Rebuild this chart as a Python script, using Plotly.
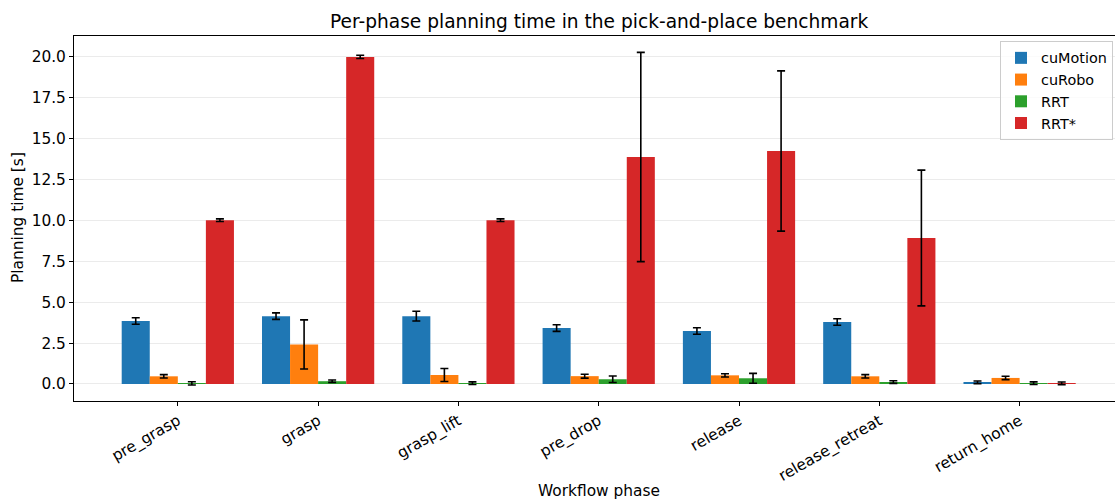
import plotly.graph_objects as go

# Workflow phases on the x axis
phases = ["pre_grasp", "grasp", "grasp_lift", "pre_drop", "release",
          "release_retreat", "return_home"]

# Mean planning time per phase [s] and standard deviation for each planner
cumotion_mean = [3.85, 4.15, 4.15, 3.42, 3.24, 3.79, 0.10]
cumotion_std = [0.20, 0.20, 0.30, 0.20, 0.20, 0.20, 0.08]

curobo_mean = [0.47, 2.42, 0.55, 0.48, 0.53, 0.47, 0.37]
curobo_std = [0.10, 1.50, 0.40, 0.12, 0.10, 0.10, 0.10]

rrt_mean = [0.04, 0.17, 0.05, 0.29, 0.35, 0.12, 0.05]
rrt_std = [0.10, 0.07, 0.08, 0.20, 0.30, 0.08, 0.08]

rrtstar_mean = [10.02, 20.00, 10.02, 13.88, 14.25, 8.93, 0.04]
rrtstar_std = [0.08, 0.10, 0.08, 6.40, 4.90, 4.15, 0.08]

series = [
    ("cuMotion", cumotion_mean, cumotion_std, "#1f77b4"),
    ("cuRobo", curobo_mean, curobo_std, "#ff7f0e"),
    ("RRT", rrt_mean, rrt_std, "#2ca02c"),
    ("RRT*", rrtstar_mean, rrtstar_std, "#d62728"),
]

FONT = "DejaVu Sans"
LABEL_SIZE = 15.4
LEGEND_SIZE = 14.4
TITLE_SIZE = 18.6
x_idx = list(range(len(phases)))

fig = go.Figure()
for name, mean, std, color in series:
    fig.add_trace(go.Bar(
        name=name,
        x=x_idx,
        y=mean,
        marker=dict(color=color, line=dict(width=0)),
        error_y=dict(type="data", array=std, visible=True,
                     color="black", thickness=1.6, width=4),
    ))

fig.update_layout(
    width=1115,
    height=499,
    margin=dict(l=74, r=0, t=36, b=98, autoexpand=False),
    paper_bgcolor="white",
    plot_bgcolor="white",
    barmode="group",
    bargap=0.2,
    bargroupgap=0.0,
    font=dict(family=FONT, size=LABEL_SIZE, color="black"),
    showlegend=True,
    legend=dict(
        x=(1000 - 74) / 1041, y=(401 - 41) / 365,
        xanchor="left", yanchor="top",
        bgcolor="rgba(255,255,255,0.8)",
        bordercolor="#cccccc", borderwidth=1,
        font=dict(family=FONT, size=LEGEND_SIZE),
        tracegroupgap=0,
    ),
    annotations=[
        dict(text="Per-phase planning time in the pick-and-place benchmark",
             xref="paper", yref="paper",
             x=(599 - 74) / 1041, y=1, yshift=15,
             xanchor="center", yanchor="middle", showarrow=False,
             font=dict(family=FONT, size=TITLE_SIZE)),
        dict(text="Workflow phase",
             xref="paper", yref="paper",
             x=(599 - 74) / 1041, y=0, yshift=-90,
             xanchor="center", yanchor="middle", showarrow=False,
             font=dict(family=FONT, size=LABEL_SIZE)),
        dict(text="Planning time [s]",
             xref="paper", yref="paper",
             x=0, xshift=-56, y=(401 - 218) / 365,
             xanchor="center", yanchor="middle", showarrow=False,
             textangle=-90,
             font=dict(family=FONT, size=LABEL_SIZE)),
    ],
)

fig.update_xaxes(
    range=[-0.74, 6.68],
    tickmode="array",
    tickvals=x_idx,
    ticktext=phases,
    tickangle=-30,
    ticks="outside", ticklen=4, tickwidth=1, tickcolor="black",
    showline=True, linecolor="black", linewidth=1, mirror=True,
    showgrid=False, zeroline=False,
    tickfont=dict(family=FONT, size=LABEL_SIZE),
)

fig.update_yaxes(
    range=[-1.04, 21.28],
    tickmode="array",
    tickvals=[0, 2.5, 5, 7.5, 10, 12.5, 15, 17.5, 20],
    tickformat=".1f",
    ticks="outside", ticklen=4, tickwidth=1, tickcolor="black",
    showline=True, linecolor="black", linewidth=1, mirror=False,
    showgrid=True, gridcolor="#ebebeb", gridwidth=1,
    zeroline=False,
    tickfont=dict(family=FONT, size=LABEL_SIZE),
)

fig.write_html("out.html")
